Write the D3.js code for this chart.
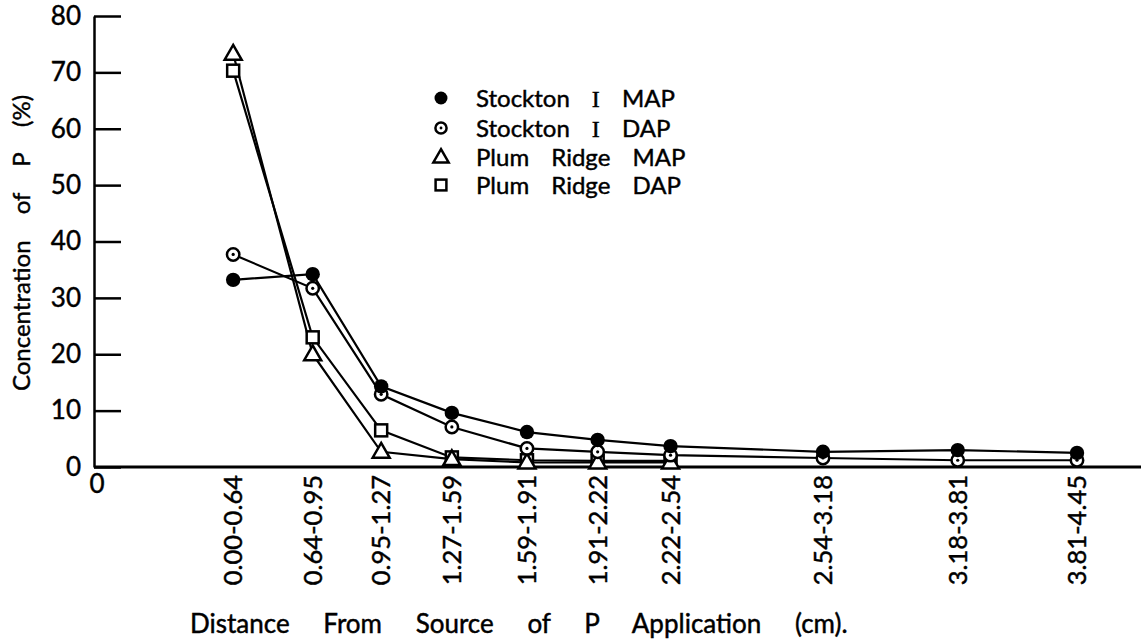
<!DOCTYPE html>
<html>
<head>
<meta charset="utf-8">
<script src="https://cdn.jsdelivr.net/npm/d3@7"></script>
<style>
  html, body { margin: 0; padding: 0; background: #fff; }
  svg { display: block; }
  text { font-family: Lato, "DejaVu Sans", sans-serif; fill: #000; stroke: #000; stroke-width: 0.45px; }
</style>
</head>
<body>
<svg id="chart" width="1141" height="643"></svg>
<script>
// Soil depth intervals (cm) and where each one sits along the distance axis
const categories = ["0.00-0.64", "0.64-0.95", "0.95-1.27", "1.27-1.59", "1.59-1.91",
                    "1.91-2.22", "2.22-2.54", "2.54-3.18", "3.18-3.81", "3.81-4.45"];
const axisPos = [0.63, 0.99, 1.30, 1.62, 1.96, 2.28, 2.61, 3.30, 3.91, 4.45];

// Concentration of P (%) in each interval
const stocktonMAP = [33.2, 34.2, 14.3, 9.6, 6.2, 4.8, 3.7, 2.7, 3.0, 2.5];
const stocktonDAP = [37.7, 31.7, 12.9, 7.1, 3.3, 2.7, 2.1, 1.6, 1.2, 1.2];
const plumMAP     = [73.3, 20.0, 2.7, 1.4, 0.8, 0.8, 0.8];
const plumDAP     = [70.3, 23.0, 6.5, 1.7, 1.2, 1.1, 1.1];

const yTicks = [0, 10, 20, 30, 40, 50, 60, 70, 80];
const seriesNames = ["Stockton I MAP", "Stockton I DAP", "Plum Ridge MAP", "Plum Ridge DAP"];

const svg = d3.select("#chart");
const x = d3.scaleLinear().domain([0, 4.45]).range([94, 1077]);
const y = d3.scaleLinear().domain([0, 80]).range([467, 16]);

// ---- axes ----
const yAxis = d3.axisLeft(y)
  .tickValues(yTicks)
  .tickSizeInner(-27)
  .tickSizeOuter(0)
  .tickPadding(13)
  .tickFormat(d3.format("d"));
const gy = svg.append("g").attr("transform", `translate(${x(0)},0)`).call(yAxis);
gy.select(".domain").attr("stroke", "#000").attr("stroke-width", 2.5);
gy.selectAll(".tick line").attr("stroke", "#000").attr("stroke-width", 2.5);
gy.selectAll(".tick text")
  .style("font-family", "Lato, 'DejaVu Sans', sans-serif")
  .style("font-size", "26px")
  .attr("fill", "#000");

// x axis baseline runs across the full width
svg.append("line")
  .attr("x1", x(0)).attr("x2", 1141)
  .attr("y1", y(0)).attr("y2", y(0))
  .attr("stroke", "#000").attr("stroke-width", 3);

// origin label under the axis
svg.append("text")
  .attr("x", x(0) + 3).attr("y", y(0) + 26)
  .attr("text-anchor", "middle")
  .style("font-size", "26px")
  .text("0");

// rotated interval labels
svg.append("g").selectAll("text")
  .data(categories)
  .join("text")
  .attr("transform", (d, i) => `translate(${x(axisPos[i])},${y(0) + 8}) rotate(-90)`)
  .attr("text-anchor", "end")
  .attr("dy", "0.36em")
  .style("font-size", "25.5px")
  .text(d => d);

// axis titles
svg.append("text")
  .attr("x", 190).attr("y", 633)
  .style("font-size", "26px")
  .style("word-spacing", "27px")
  .text("Distance From Source of P Application (cm).");

svg.append("text")
  .attr("transform", `translate(30,243) rotate(-90)`)
  .attr("text-anchor", "middle")
  .style("font-size", "24px")
  .style("word-spacing", "20px")
  .text("Concentration of P (%)");

// ---- series ----
const series = [
  { name: seriesNames[3], values: plumDAP, shape: "square" },
  { name: seriesNames[2], values: plumMAP, shape: "triangle" },
  { name: seriesNames[1], values: stocktonDAP, shape: "open" },
  { name: seriesNames[0], values: stocktonMAP, shape: "filled" }
];

const line = d3.line()
  .x(d => x(d.p))
  .y(d => y(d.v));

function drawMarker(g, shape, scale) {
  const k = scale || 1;
  if (shape === "filled") {
    g.append("circle").attr("r", 7.2 * k).attr("fill", "#000");
  } else if (shape === "open") {
    g.append("circle").attr("r", 6.2 * k).attr("fill", "#fff")
      .attr("stroke", "#000").attr("stroke-width", 2.5);
    g.append("circle").attr("r", 1.6 * k).attr("fill", "#000");
  } else if (shape === "triangle") {
    g.append("path")
      .attr("d", d3.symbol().type(d3.symbolTriangle).size(125 * k * k)())
      .attr("transform", "translate(0,1)")
      .attr("fill", "#fff").attr("stroke", "#000").attr("stroke-width", 2.5);
  } else if (shape === "square") {
    const s = 12 * k;
    g.append("rect").attr("x", -s / 2).attr("y", -s / 2)
      .attr("width", s).attr("height", s)
      .attr("fill", "#fff").attr("stroke", "#000").attr("stroke-width", 2.5);
  }
}

const plot = svg.append("g");
series.forEach(s => {
  const pts = s.values.map((v, i) => ({ p: axisPos[i], v }));
  plot.append("path")
    .datum(pts)
    .attr("d", line)
    .attr("fill", "none")
    .attr("stroke", "#000")
    .attr("stroke-width", 2.2);
});
series.forEach(s => {
  s.values.forEach((v, i) => {
    const g = plot.append("g").attr("transform", `translate(${x(axisPos[i])},${y(v)})`);
    drawMarker(g, s.shape);
  });
});

// ---- legend ----
const legendShapes = ["filled", "open", "triangle", "square"];
const legendY = [98, 128, 157, 185];
const legend = svg.append("g");
seriesNames.forEach((name, i) => {
  const g = legend.append("g").attr("transform", `translate(441,${legendY[i]})`);
  drawMarker(g, legendShapes[i], 0.9);
  const t = g.append("text")
    .attr("x", 35).attr("dy", "0.36em")
    .style("font-size", "24px")
    .style("word-spacing", "16px");
  name.split(" ").forEach((w, j) => {
    const ts = t.append("tspan").text((j ? " " : "") + w);
    if (w === "I") ts.style("font-family", "'Liberation Serif', serif");
  });
});
</script>
</body>
</html>
